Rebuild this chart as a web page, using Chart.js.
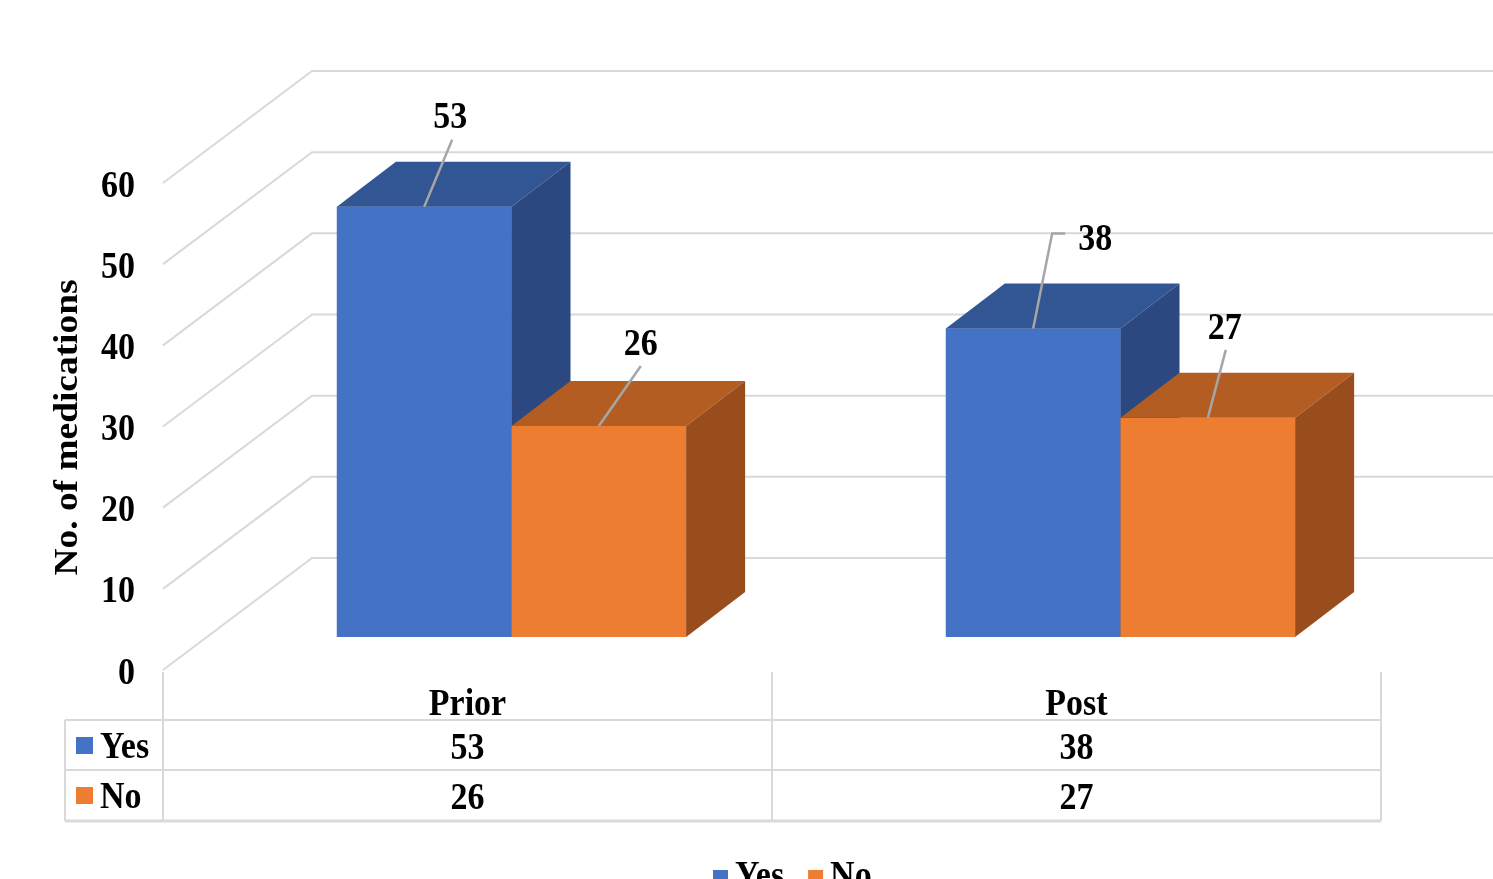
<!DOCTYPE html>
<html>
<head>
<meta charset="utf-8">
<script src="https://cdn.jsdelivr.net/npm/chart.js@4.4.1/dist/chart.umd.min.js"></script>
<style>
  html, body { margin: 0; padding: 0; background: #ffffff; overflow: hidden; }
  canvas { display: block; }
</style>
</head>
<body>
<canvas id="c" width="1493" height="879"></canvas>
<script>
// ---- data ----
const categories = ['Prior', 'Post'];
const seriesNames = ['Yes', 'No'];
const yesValues = [53, 38];
const noValues = [26, 27];
const yTicks = [0, 10, 20, 30, 40, 50, 60];
const yTitle = 'No. of medications';

// ---- styles / layout (not data) ----
const FONT = 'bold 34px "Liberation Serif", "Times New Roman", serif';
const STRETCH = 1.1; // text in the reference is slightly taller than wide
const faceColors = [
  { front: '#4472C4', top: '#325694', side: '#2B4880' },
  { front: '#ED7D31', top: '#B45D23', side: '#9A4D1C' }
];
const GRID = '#d9d9d9';
const DEPTH = { dx: 59, dy: -45 };       // bar depth
const FRONT = { dx: -44, dy: 33 };       // bar plane -> front edge of floor
const BACK = { dx: 105, dy: -79 };       // bar plane -> back wall
// label offsets relative to bar front-top centre, [category][series]
const labelLayout = [
  [ { dx: 26, dy: -88, path: [[0,0],[28,-67]] }, { dx: 42, dy: -81, path: [[0,0],[42,-60]] } ],
  [ { dx: 62, dy: -88, path: [[0,0],[19,-95],[32,-95]] }, { dx: 17, dy: -89, path: [[0,0],[18,-68]] } ]
];

const allSeries = [yesValues, noValues];

function text(ctx, str, x, y) {
  ctx.save();
  ctx.translate(x, y);
  ctx.scale(1, STRETCH);
  ctx.fillText(str, 0, 0);
  ctx.restore();
}

const plugin3d = {
  id: 'plugin3d',
  beforeDatasetsDraw(chart) {
    const ctx = chart.ctx;
    const ys = chart.scales.y;
    const area = chart.chartArea;
    ctx.save();
    ctx.strokeStyle = GRID;
    ctx.lineWidth = 2;
    yTicks.forEach(v => {
      const y = ys.getPixelForValue(v);
      const fx = area.left + FRONT.dx, fy = y + FRONT.dy;
      const bx = area.left + BACK.dx, by = y + BACK.dy;
      ctx.beginPath();
      ctx.moveTo(fx, fy);
      ctx.lineTo(bx, by);
      ctx.lineTo(chart.width + 5, by);
      ctx.stroke();
    });
    ctx.restore();
  },
  afterDatasetsDraw(chart) {
    const ctx = chart.ctx;
    const metas = [chart.getDatasetMeta(0), chart.getDatasetMeta(1)];
    ctx.save();
    for (let c = 0; c < categories.length; c++) {
      for (let s = 0; s < metas.length; s++) {
        const bar = metas[s].data[c];
        const p = bar.getProps(['x', 'y', 'base', 'width'], true);
        const l = p.x - p.width / 2, r = p.x + p.width / 2;
        const t = p.y, b = p.base;
        const col = faceColors[s];
        ctx.fillStyle = col.front;
        ctx.fillRect(l, t, r - l, b - t);
        ctx.fillStyle = col.top;
        ctx.beginPath();
        ctx.moveTo(l, t);
        ctx.lineTo(l + DEPTH.dx, t + DEPTH.dy);
        ctx.lineTo(r + DEPTH.dx, t + DEPTH.dy);
        ctx.lineTo(r, t);
        ctx.closePath();
        ctx.fill();
        ctx.fillStyle = col.side;
        ctx.beginPath();
        ctx.moveTo(r, t);
        ctx.lineTo(r + DEPTH.dx, t + DEPTH.dy);
        ctx.lineTo(r + DEPTH.dx, b + DEPTH.dy);
        ctx.lineTo(r, b);
        ctx.closePath();
        ctx.fill();
      }
    }
    ctx.restore();
  },
  afterDraw(chart) {
    const ctx = chart.ctx;
    const ys = chart.scales.y;
    const xs = chart.scales.x;
    const area = chart.chartArea;
    ctx.save();
    ctx.font = FONT;
    ctx.fillStyle = '#000000';

    // y tick labels at front edge
    ctx.textAlign = 'right';
    ctx.textBaseline = 'middle';
    yTicks.forEach(v => {
      const y = ys.getPixelForValue(v) + FRONT.dy;
      text(ctx, String(v), 135, y + 4);
    });

    // y title
    ctx.save();
    ctx.translate(68, (ys.getPixelForValue(0) + ys.getPixelForValue(60)) / 2 + FRONT.dy + 1);
    ctx.rotate(-Math.PI / 2);
    ctx.scale(STRETCH, 1);
    ctx.textAlign = 'center';
    ctx.textBaseline = 'middle';
    ctx.fillText(yTitle, 0, 0);
    ctx.restore();

    // data labels with leader lines
    const metas = [chart.getDatasetMeta(0), chart.getDatasetMeta(1)];
    for (let c = 0; c < categories.length; c++) {
      for (let s = 0; s < metas.length; s++) {
        const p = metas[s].data[c].getProps(['x', 'y'], true);
        const lay = labelLayout[c][s];
        ctx.strokeStyle = '#a6a6a6';
        ctx.lineWidth = 2.5;
        ctx.beginPath();
        lay.path.forEach((pt, i) => {
          if (i === 0) ctx.moveTo(p.x + pt[0], p.y + pt[1]);
          else ctx.lineTo(p.x + pt[0], p.y + pt[1]);
        });
        ctx.stroke();
        ctx.textAlign = 'center';
        ctx.textBaseline = 'middle';
        ctx.fillStyle = '#000000';
        text(ctx, String(allSeries[s][c]), p.x + lay.dx, p.y + lay.dy);
      }
    }

    // data table
    const catW = (area.right - area.left) / categories.length;
    const x0 = area.left + FRONT.dx;
    const xEnd = x0 + catW * categories.length;
    const tTop = ys.getPixelForValue(0) + FRONT.dy + 2;
    const rowH = 50;
    const hdrBottom = 720;
    ctx.strokeStyle = GRID;
    ctx.lineWidth = 2;
    for (let i = 0; i <= categories.length; i++) {
      const x = x0 + catW * i;
      ctx.beginPath();
      ctx.moveTo(x, tTop);
      ctx.lineTo(x, hdrBottom + rowH * 2 + 1);
      ctx.stroke();
    }
    ctx.beginPath();
    ctx.moveTo(65, hdrBottom);
    ctx.lineTo(65, hdrBottom + rowH * 2 + 1);
    ctx.stroke();
    for (let r = 0; r <= 2; r++) {
      const y = hdrBottom + rowH * r + (r === 2 ? 1 : 0);
      ctx.lineWidth = r === 2 ? 3 : 2;
      ctx.beginPath();
      ctx.moveTo(65, y);
      ctx.lineTo(xEnd, y);
      ctx.stroke();
    }
    ctx.fillStyle = '#000000';
    ctx.textAlign = 'center';
    ctx.textBaseline = 'middle';
    categories.forEach((cat, i) => {
      const cx = xs.getPixelForValue(i) + FRONT.dx;
      text(ctx, cat, cx, 705);
      allSeries.forEach((vals, s) => {
        text(ctx, String(vals[i]), cx, hdrBottom + rowH * s + 29);
      });
    });
    seriesNames.forEach((name, s) => {
      const cy = hdrBottom + rowH * s + 26;
      ctx.fillStyle = faceColors[s].front;
      ctx.fillRect(76, cy - 9, 17, 17);
      ctx.fillStyle = '#000000';
      ctx.textAlign = 'left';
      text(ctx, name, 100, cy + 2);
    });

    // bottom legend (cut off by the page edge)
    ctx.textBaseline = 'alphabetic';
    ctx.textAlign = 'left';
    let lx = 713;
    seriesNames.forEach((name, s) => {
      ctx.fillStyle = faceColors[s].front;
      ctx.fillRect(lx, 870, 15, 15);
      ctx.fillStyle = '#000000';
      text(ctx, name, lx + 22, 887);
      lx += 22 + ctx.measureText(name).width + 24;
    });
    ctx.restore();
  }
};

new Chart(document.getElementById('c'), {
  type: 'bar',
  data: {
    labels: categories,
    datasets: [
      { label: seriesNames[0], data: yesValues, backgroundColor: faceColors[0].front, borderWidth: 0 },
      { label: seriesNames[1], data: noValues, backgroundColor: faceColors[1].front, borderWidth: 0 }
    ]
  },
  options: {
    responsive: false,
    animation: false,
    devicePixelRatio: 1,
    layout: { padding: { left: 207, right: 68, top: 150, bottom: 242 } },
    plugins: { legend: { display: false }, tooltip: { enabled: false } },
    datasets: { bar: { categoryPercentage: 0.5735, barPercentage: 1 } },
    scales: {
      x: { display: false, grid: { display: false } },
      y: { display: false, min: 0, max: 60, grid: { display: false } }
    }
  },
  plugins: [plugin3d]
});
</script>
</body>
</html>
